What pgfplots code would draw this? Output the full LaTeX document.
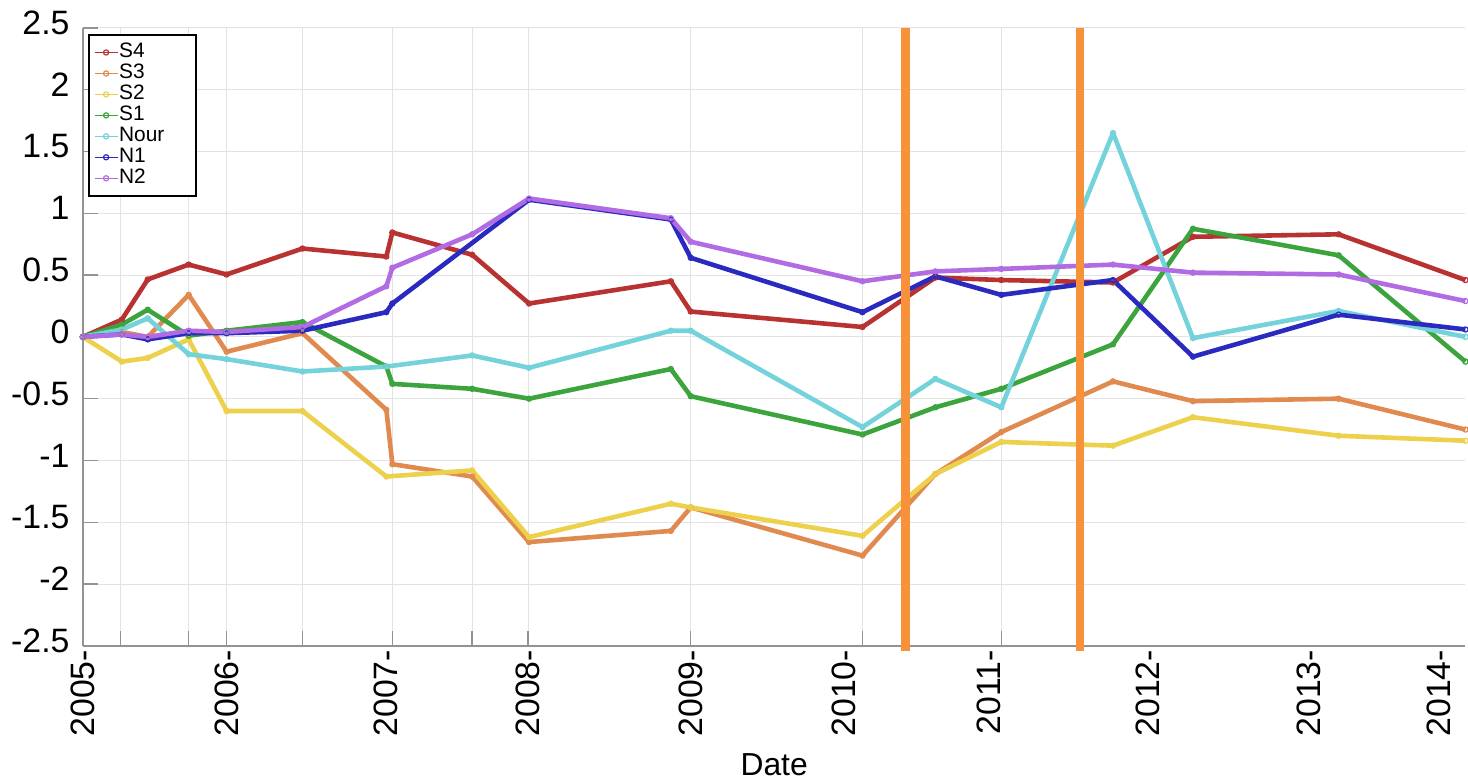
\documentclass[border=0pt]{standalone}
\usepackage{fontspec}
\setmainfont{Liberation Sans}
\usepackage{pgfplots}
\pgfplotsset{compat=1.18}
\definecolor{cS4}{HTML}{B83232}
\definecolor{cS3}{HTML}{E08A4F}
\definecolor{cS2}{HTML}{EDD04B}
\definecolor{cS1}{HTML}{3CA43C}
\definecolor{cNour}{HTML}{73D2DA}
\definecolor{cN1}{HTML}{2A2AC0}
\definecolor{cN2}{HTML}{B26CE3}
\definecolor{cMark}{HTML}{F7923A}
\begin{document}
\begin{tikzpicture}
\begin{axis}[
  width=692.5bp, height=309.5bp, scale only axis,
  xmin=2005, xmax=2014.184, ymin=-2.5, ymax=2.5,
  clip=false,
  axis x line*=bottom, axis y line*=left,
  axis line style={draw=gray!85, line width=0.7bp, -},
  tick style={draw=gray!85, line width=0.7bp},
  major tick length=7.5bp, minor tick length=7.5bp, tick align=inside,
  xtick={2005,2005.955,2007.016,2007.958,2009.038,2010.053,2011.015,2012.076,2013.143,2014.005},
  xticklabels={2005-,2006-,2007-,2008-,2009-,2010-,2011-,2012-,2013-,2014-},
  every major x tick/.append style={draw=none},
  minor xtick={2005.252,2005.703,2005.955,2006.459,2007.056,2007.586,2007.958,2009.038,2010.179,2011.101},
  xminorgrids=true, xmajorgrids=false, ymajorgrids=true,
  grid style={draw=gray!22, line width=0.5bp},
  minor grid style={draw=gray!22, line width=0.5bp},
  x tick label style={rotate=90, anchor=east, inner sep=0.5bp, xshift=-1.4bp, font=\fontsize{17}{17}\selectfont},
  ytick={-2.5,-2,-1.5,-1,-0.5,0,0.5,1,1.5,2,2.5},
  yticklabels={-2.5,-2,-1.5,-1,-0.5,0,0.5,1,1.5,2,2.5},
  y tick label style={anchor=east, inner sep=0pt, xshift=-6.5bp, yshift=2.5bp, font=\fontsize{17}{17}\selectfont},
  xlabel={Date},
  xlabel style={at={(axis description cs:0.5,0)}, anchor=north, yshift=-54bp, inner sep=0pt, font=\fontsize{16}{16}\selectfont},
  every axis plot/.append style={line width=2.3bp, line join=round, mark=o, mark size=1.3bp, mark options={line width=0.6bp}},
  legend image code/.code={\draw[line width=0.7bp, mark repeat=2, mark phase=2] plot coordinates {(0bp,0bp)(5.75bp,0bp)(11.5bp,0bp)};},
  legend style={at={(0,1)}, anchor=north west, xshift=2.5bp, yshift=-3bp, draw=black, line width=1.1bp,
    fill=white, font=\fontsize{10.5}{10.5}\selectfont, inner xsep=2.5bp, inner ysep=3.5bp, row sep=0pt,
    nodes={inner sep=0.4bp, text height=7.6bp, text depth=2.1bp}},
  legend cell align=left,
]
\addplot[color=cS4] coordinates {
(2005.000,0) (2005.259,0.14) (2005.431,0.465) (2005.703,0.585) (2005.955,0.505)
(2006.459,0.715) (2007.016,0.65) (2007.056,0.845) (2007.586,0.665) (2007.964,0.27)
(2008.906,0.45) (2009.038,0.205) (2010.179,0.08) (2010.663,0.48) (2011.101,0.46)
(2011.843,0.44) (2012.374,0.81) (2013.342,0.83) (2014.184,0.46)};
\addlegendentry{S4}
\addplot[color=cS3] coordinates {
(2005.000,0) (2005.259,0.04) (2005.431,0.0) (2005.703,0.34) (2005.955,-0.12)
(2006.459,0.03) (2007.016,-0.59) (2007.056,-1.03) (2007.586,-1.13) (2007.964,-1.66)
(2008.906,-1.57) (2009.038,-1.38) (2010.179,-1.77) (2010.663,-1.11) (2011.101,-0.77)
(2011.843,-0.36) (2012.374,-0.52) (2013.342,-0.50) (2014.184,-0.75)};
\addlegendentry{S3}
\addplot[color=cS2] coordinates {
(2005.000,0) (2005.259,-0.20) (2005.431,-0.17) (2005.703,-0.02) (2005.955,-0.60)
(2006.459,-0.60) (2007.016,-1.13) (2007.586,-1.08) (2007.964,-1.62)
(2008.906,-1.35) (2009.038,-1.38) (2010.179,-1.61) (2010.663,-1.11) (2011.101,-0.85)
(2011.843,-0.88) (2012.374,-0.65) (2013.342,-0.80) (2014.184,-0.84)};
\addlegendentry{S2}
\addplot[color=cS1] coordinates {
(2005.000,0) (2005.259,0.10) (2005.431,0.22) (2005.703,0.01) (2005.955,0.05)
(2006.459,0.12) (2007.016,-0.24) (2007.056,-0.38) (2007.586,-0.42) (2007.964,-0.50)
(2008.906,-0.26) (2009.038,-0.48) (2010.179,-0.79) (2010.663,-0.57) (2011.101,-0.42)
(2011.843,-0.06) (2012.374,0.875) (2013.342,0.66) (2014.184,-0.20)};
\addlegendentry{S1}
\addplot[color=cNour] coordinates {
(2005.000,0) (2005.259,0.06) (2005.431,0.15) (2005.703,-0.14) (2005.955,-0.18)
(2006.459,-0.28) (2007.016,-0.24) (2007.586,-0.15) (2007.964,-0.25)
(2008.906,0.05) (2009.038,0.05) (2010.179,-0.73) (2010.663,-0.34) (2011.101,-0.57)
(2011.843,1.65) (2012.374,-0.01) (2013.342,0.21) (2014.184,0.0)};
\addlegendentry{Nour\hspace*{13bp}}
\addplot[color=cN1] coordinates {
(2005.000,0) (2005.259,0.02) (2005.431,-0.02) (2005.703,0.03) (2005.955,0.03)
(2006.459,0.05) (2007.016,0.20) (2007.056,0.27) (2007.964,1.11)
(2008.906,0.95) (2009.038,0.64) (2010.179,0.20) (2010.663,0.49) (2011.101,0.34)
(2011.843,0.46) (2012.374,-0.16) (2013.342,0.18) (2014.184,0.06)};
\addlegendentry{N1}
\addplot[color=cN2] coordinates {
(2005.000,0) (2005.259,0.02) (2005.431,0.0) (2005.703,0.05) (2005.955,0.04)
(2006.459,0.08) (2007.016,0.41) (2007.056,0.56) (2007.586,0.83) (2007.964,1.12)
(2008.906,0.96) (2009.038,0.77) (2010.179,0.45) (2010.663,0.53) (2011.101,0.55)
(2011.843,0.585) (2012.374,0.52) (2013.342,0.505) (2014.184,0.29)};
\addlegendentry{N2}
\addplot[color=cMark, line width=4.2bp, mark=none, forget plot] coordinates {(2010.464,-2.54) (2010.464,2.5)};
\addplot[color=cMark, line width=4.2bp, mark=none, forget plot] coordinates {(2011.625,-2.54) (2011.625,2.5)};
\path ([xshift=-41.5bp,yshift=-68bp]rel axis cs:0,0) rectangle ([yshift=14bp]rel axis cs:1,1);
\end{axis}
\end{tikzpicture}
\end{document}
